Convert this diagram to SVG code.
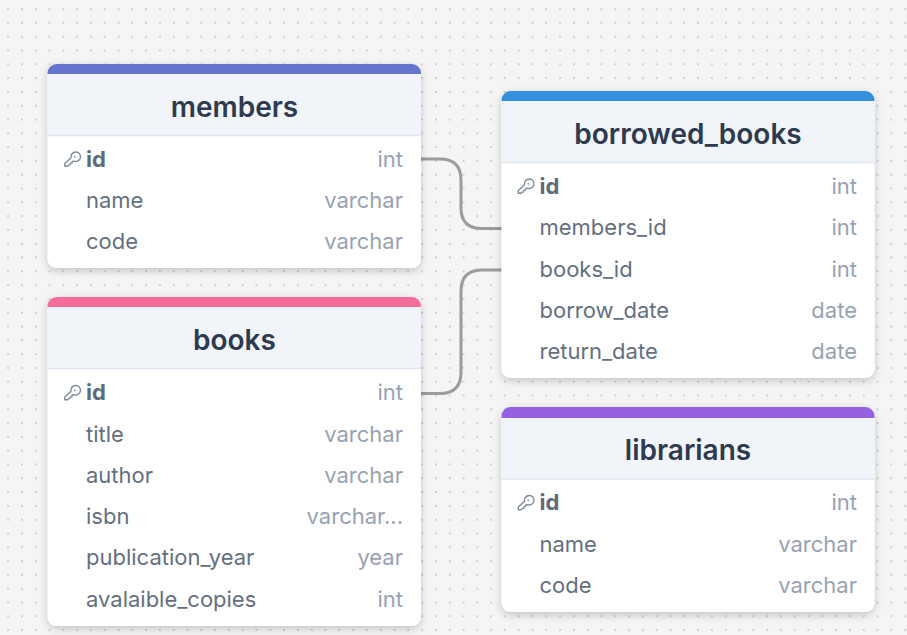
<svg xmlns="http://www.w3.org/2000/svg" width="907" height="635" viewBox="0 0 907 635">
<style>
text{font-family:Inter,"Liberation Sans",sans-serif}
.t{font-size:28px;font-weight:600;fill:#2e3a4f;text-anchor:middle}
.n{font-size:22px;fill:#64707f}
.k{font-size:22px;font-weight:700;fill:#5d6b7a}
.y{font-size:22px;fill:#98a2b3;text-anchor:end}
.b{fill:#fff;filter:url(#s)}
.h{fill:#f1f4f9}
.r{stroke:#dfe6f0;stroke-width:1.5;fill:none}
.c{fill:none;stroke:#9c9c9c;stroke-width:3}
.key{fill:none;stroke:#7d8a99;stroke-width:1.5;stroke-linejoin:round}
</style>
<defs>
<pattern id="d" width="13.8" height="13.8" patternUnits="userSpaceOnUse" x="1.2" y="2.2"><circle cx="6.9" cy="6.9" r="1" fill="#c4c4c4"/></pattern>
<filter id="s" x="-10%" y="-10%" width="120%" height="125%"><feDropShadow dx="0" dy="3" stdDeviation="4" flood-color="#000" flood-opacity=".2"/></filter>
<g id="kg"><path class="key" transform="scale(.92)" d="M-0.500 -2.500A5.200 5.200 0 1 1 2.700 1.300L0.800 1.500L0.500 3.300L-1.300 3.600L-1.600 5.300L-3.400 5.600L-4.200 6.800H-7.300V3.700Z"/><circle cx="3.300" cy="-3.200" r=".9" fill="#7d8a99"/></g>
</defs>
<rect width="907" height="635" fill="#f5f5f5"/>
<rect width="907" height="635" fill="url(#d)"/>
<g id="connectors">
<path class="c" d="M421 159H440Q461 159 461 180V208Q461 228.500 482 228.500H502"/>
<path class="c" d="M421 393.500H440Q461 393.500 461 372.500V291Q461 270 482 270H502"/>
</g>
<g id="members">
<rect class="b" x="47.500" y="64" width="373.500" height="204" rx="9"/>
<path d="M47.500 74V73a9 9 0 0 1 9-9H412a9 9 0 0 1 9 9V74Z" fill="#6574cd"/>
<rect class="h" x="47.500" y="74" width="373.500" height="61"/>
<path class="r" d="M47.500 135.500H421"/>
<text class="t" x="234.500" y="116.500">members</text>
<use href="#kg" x="71.500" y="160"/>
<text class="k" x="86" y="167">id</text><text class="y" x="403" y="167">int</text>
<text class="n" x="86" y="208">name</text><text class="y" x="403" y="208">varchar</text>
<text class="n" x="86" y="249">code</text><text class="y" x="403" y="249">varchar</text>
</g>
<g id="books">
<rect class="b" x="47.500" y="297" width="373.500" height="329" rx="9"/>
<path d="M47.500 307V306a9 9 0 0 1 9-9H412a9 9 0 0 1 9 9V307Z" fill="#f66d9b"/>
<rect class="h" x="47.500" y="307" width="373.500" height="61"/>
<path class="r" d="M47.500 368.500H421"/>
<text class="t" x="234.500" y="350">books</text>
<use href="#kg" x="71.500" y="393.500"/>
<text class="k" x="86" y="400">id</text><text class="y" x="403" y="400">int</text>
<text class="n" x="86" y="442">title</text><text class="y" x="403" y="442">varchar</text>
<text class="n" x="86" y="483">author</text><text class="y" x="403" y="483">varchar</text>
<text class="n" x="86" y="524">isbn</text><text class="y" x="403" y="524">varchar...</text>
<text class="n" x="86" y="565">publication_year</text><text class="y" x="403" y="565">year</text>
<text class="n" x="86" y="607">avalaible_copies</text><text class="y" x="403" y="607">int</text>
</g>
<g id="borrowed_books">
<rect class="b" x="501.500" y="91" width="373" height="287" rx="9"/>
<path d="M501.500 101V100a9 9 0 0 1 9-9H865.500a9 9 0 0 1 9 9V101Z" fill="#3490dc"/>
<rect class="h" x="501.500" y="101" width="373" height="61"/>
<path class="r" d="M501.500 162.500H874.500"/>
<text class="t" x="688" y="144">borrowed_books</text>
<use href="#kg" x="525" y="187"/>
<text class="k" x="539.500" y="194">id</text><text class="y" x="857" y="194">int</text>
<text class="n" x="539.500" y="235">members_id</text><text class="y" x="857" y="235">int</text>
<text class="n" x="539.500" y="277">books_id</text><text class="y" x="857" y="277">int</text>
<text class="n" x="539.500" y="318">borrow_date</text><text class="y" x="857" y="318">date</text>
<text class="n" x="539.500" y="359">return_date</text><text class="y" x="857" y="359">date</text>
</g>
<g id="librarians">
<rect class="b" x="501.500" y="407" width="373" height="205" rx="9"/>
<path d="M501.500 418V416a9 9 0 0 1 9-9H865.500a9 9 0 0 1 9 9V418Z" fill="#9561e2"/>
<rect class="h" x="501.500" y="418" width="373" height="61"/>
<path class="r" d="M501.500 479H874.500"/>
<text class="t" x="688" y="460">librarians</text>
<use href="#kg" x="525" y="503.500"/>
<text class="k" x="539.500" y="510">id</text><text class="y" x="857" y="510">int</text>
<text class="n" x="539.500" y="552">name</text><text class="y" x="857" y="552">varchar</text>
<text class="n" x="539.500" y="593">code</text><text class="y" x="857" y="593">varchar</text>
</g>
</svg>
